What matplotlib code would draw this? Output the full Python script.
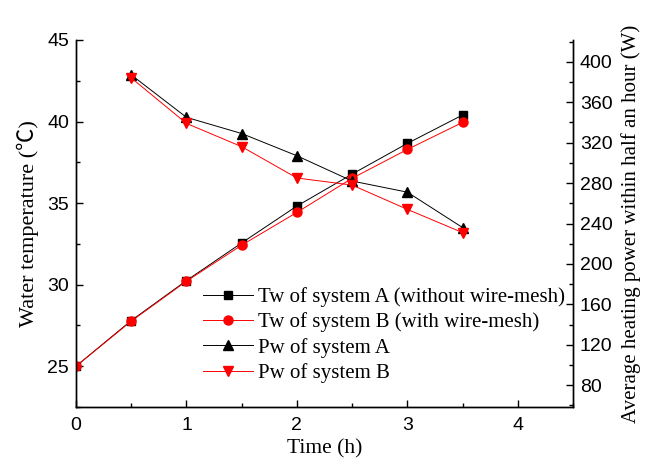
import matplotlib
matplotlib.use("Agg")
import matplotlib.pyplot as plt
from matplotlib.ticker import MultipleLocator

# data
time_h = [0, 0.5, 1, 1.5, 2, 2.5, 3, 3.5]
tw_a = [25.0, 27.8, 30.25, 32.56, 34.82, 36.78, 38.66, 40.4]
tw_b = [25.0, 27.76, 30.21, 32.42, 34.43, 36.52, 38.29, 39.95]

time_p = [0.5, 1, 1.5, 2, 2.5, 3, 3.5]
pw_a = [387, 345, 329, 307, 282, 271, 236]
pw_b = [384, 339, 316, 285, 278, 254, 231]

serif = ["Liberation Serif", "Noto Sans CJK SC", "DejaVu Sans"]
sans = "Liberation Sans"

fig = plt.figure(figsize=(6.46, 4.66), dpi=100)
ax = fig.add_axes([76 / 646, 1 - 407 / 466, (573 - 76) / 646, (407 - 40) / 466])
ax2 = ax.twinx()

l1, = ax.plot(time_h, tw_a, color="black", lw=0.7, marker="s", ms=5.5,
              label="Tw of system A (without wire-mesh)")
l2, = ax.plot(time_h, tw_b, color="red", lw=0.7, marker="o", ms=6.5,
              label="Tw of system B (with wire-mesh)")
l3, = ax2.plot(time_p, pw_a, color="black", lw=0.7, marker="^", ms=7,
               label="Pw of system A")
l4, = ax2.plot(time_p, pw_b, color="red", lw=0.7, marker="v", ms=7,
               label="Pw of system B")

ax.set_xlim(0, 4.5)
ax.set_ylim(22.5, 45)
ax2.set_ylim(58.5, 421.5)

ax.xaxis.set_major_locator(MultipleLocator(1))
ax.xaxis.set_minor_locator(MultipleLocator(0.5))
ax.yaxis.set_major_locator(MultipleLocator(5))
ax.yaxis.set_minor_locator(MultipleLocator(2.5))
ax2.yaxis.set_major_locator(MultipleLocator(40))
ax2.yaxis.set_minor_locator(MultipleLocator(20))

for a in (ax, ax2):
    a.spines["top"].set_visible(False)
    for s in a.spines.values():
        s.set_linewidth(1.0)
    a.tick_params(which="major", direction="in", length=5, width=1, labelsize=14)
    a.tick_params(which="minor", direction="in", length=3, width=1)
    for lab in a.get_xticklabels() + a.get_yticklabels():
        lab.set_fontfamily(sans)
ax.tick_params(axis="x", pad=7)
ax.tick_params(axis="y", pad=5)
ax2.tick_params(axis="y", pad=5)

ax.set_xlabel("Time (h)", fontfamily=serif, fontsize=15.5, labelpad=4)
ax.set_ylabel("Water temperature (\u2103)", fontfamily=serif, fontsize=16, labelpad=6)
ax2.set_ylabel("Average heating power within half an hour (W)",
               fontfamily=serif, fontsize=15, labelpad=6)

fig.legend(handles=[l1, l2, l3, l4], loc="upper left",
           bbox_to_anchor=(203 / 646, 1 - 287 / 466), frameon=False,
           prop={"family": serif, "size": 15}, handlelength=2.4,
           handletextpad=0.25, labelspacing=0.26, borderpad=0, borderaxespad=0)

fig.savefig("out.png", dpi=100)
